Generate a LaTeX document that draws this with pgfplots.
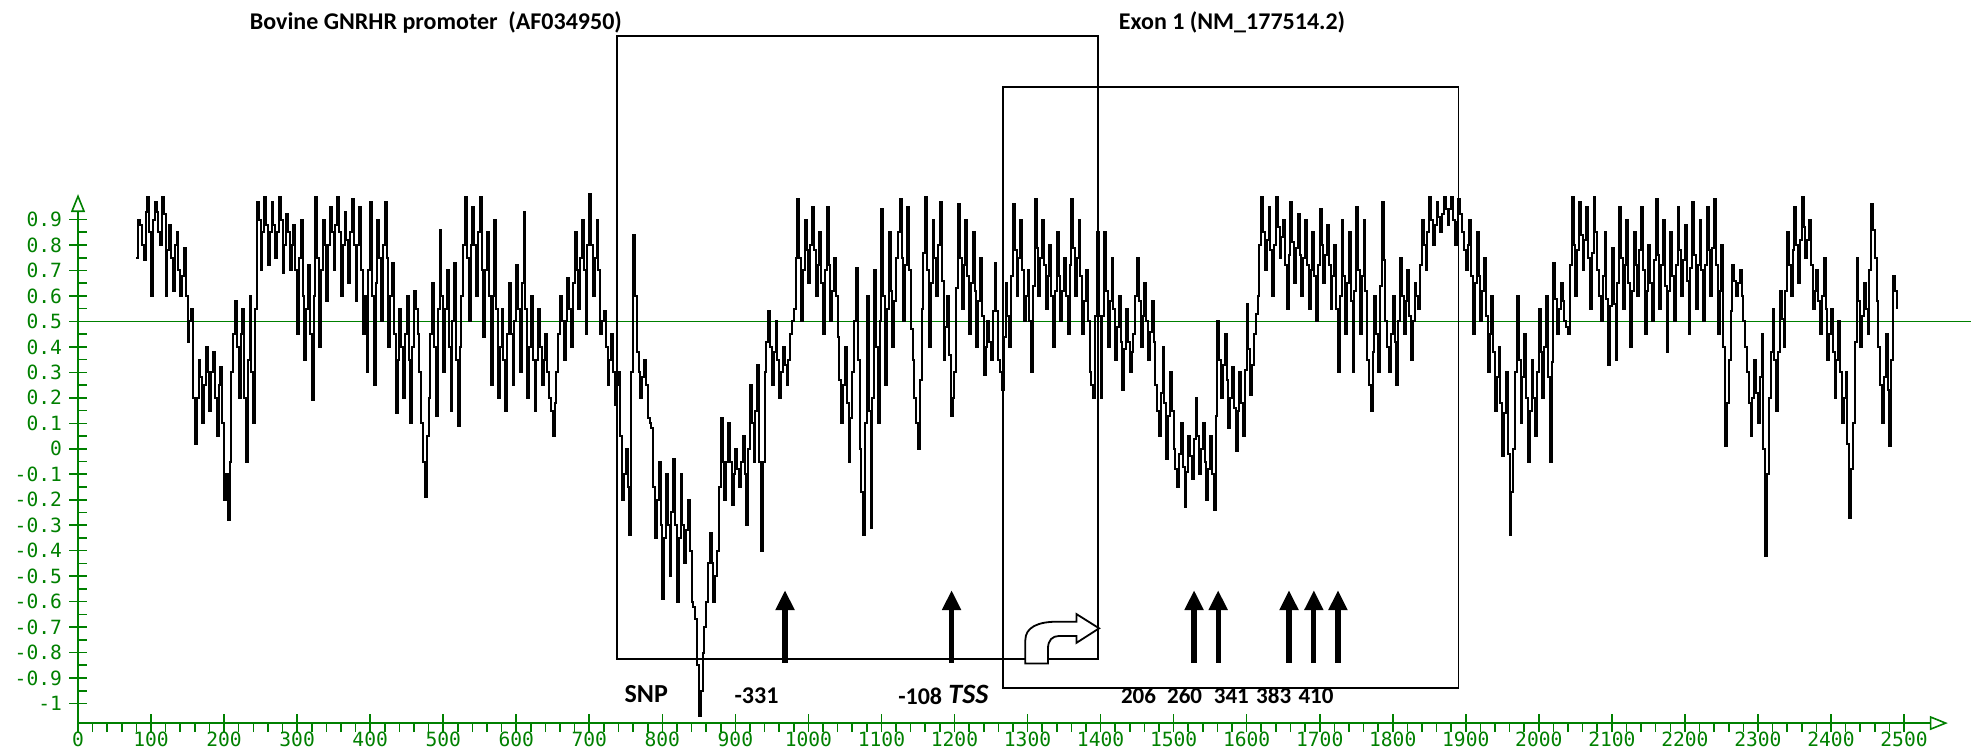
\documentclass[border=0pt]{standalone}
\usepackage{pgfplots}
\pgfplotsset{compat=1.18}
\usepackage{fontspec}
\setmainfont{Carlito}
\newfontfamily\tickfont{DejaVu Sans Mono}
\usetikzlibrary{arrows.meta}
\definecolor{axgreen}{RGB}{0,128,0}
\begin{document}
\begin{tikzpicture}
\begin{axis}[
  scale only axis,
  width=934.9pt, height=264.5pt,
  xmin=0, xmax=2560, ymin=-1.077, ymax=1.0,
  axis lines=left,
  axis line style={axgreen, line width=0.8pt},
  x axis line style={-{Triangle[open,width=7pt,length=9pt]}},
  y axis line style={-{Triangle[open,width=7pt,length=9pt]}},
  xtick={0,100,...,2500},
  ytick={-1,-0.9,-0.8,-0.7,-0.6,-0.5,-0.4,-0.3,-0.2,-0.1,0,0.1,0.2,0.3,0.4,0.5,0.6,0.7,0.8,0.9},
  minor x tick num=4,
  minor y tick num=1,
  tick align=center,
  major tick length=9pt,
  minor tick length=4.5pt,
  tick style={axgreen, line width=0.8pt},
  minor x tick style={yshift=-2.25pt},
  minor y tick style={xshift=2.25pt},
  ticklabel style={font=\tickfont\fontsize{9.8}{10}\selectfont, text=axgreen},
  xticklabel style={yshift=3.5pt},
  /pgf/number format/assume math mode=true,
  /pgf/number format/1000 sep={},
  clip=false,
]
\coordinate (BL) at (axis cs:-106.8,-1.187);
\coordinate (TR) at (axis cs:2591.7,1.762);
\draw[axgreen, line width=0.8pt] (axis cs:0,0.5) -- (axis cs:2592,0.5);
\addplot[black, line width=1.0pt, const plot, mark=none] coordinates {
(80,0.75)(82.5,0.9)(85,0.88)(87.5,0.8)(90,0.74)(92.5,0.93)(95,0.99)(97.5,0.85)(100,0.6)(102.5,0.9)
(105,0.97)(107.5,0.93)(110,0.85)(112.5,0.8)(115,0.99)(117.5,0.92)(120,0.6)(122.5,0.78)(125,0.88)(127.5,0.75)
(130,0.62)(132.5,0.8)(135,0.85)(137.5,0.7)(140,0.6)(142.5,0.68)(145,0.79)(147.5,0.6)(150,0.42)(152.5,0.5)
(155,0.55)(157.5,0.2)(160,0.02)(162.5,0.2)(165,0.35)(167.5,0.28)(170,0.1)(172.5,0.25)(175,0.4)(177.5,0.3)
(180,0.15)(182.5,0.3)(185,0.38)(187.5,0.2)(190,0.05)(192.5,0.25)(195,0.32)(197.5,0.1)(200,-0.2)(202.5,-0.1)
(205,-0.28)(207.5,-0.05)(210,0.3)(212.5,0.45)(215,0.58)(217.5,0.4)(220,0.2)(222.5,0.45)(225,0.55)(227.5,0.2)
(230,-0.05)(232.5,0.35)(235,0.6)(237.5,0.3)(240,0.1)(242.5,0.55)(245,0.97)(247.5,0.9)(250,0.7)(252.5,0.85)
(255,0.99)(257.5,0.88)(260,0.72)(262.5,0.85)(265,0.97)(267.5,0.88)(270,0.75)(272.5,0.85)(275,0.99)(277.5,0.9)
(280,0.69)(282.5,0.8)(285,0.92)(287.5,0.85)(290,0.7)(292.5,0.8)(295,0.88)(297.5,0.7)(300,0.45)(302.5,0.75)
(305,0.9)(307.5,0.6)(310,0.35)(312.5,0.55)(315,0.72)(317.5,0.45)(320,0.19)(322.5,0.6)(325,0.99)(327.5,0.75)
(330,0.4)(332.5,0.7)(335,0.9)(337.5,0.8)(340,0.58)(342.5,0.8)(345,0.95)(347.5,0.85)(350,0.7)(352.5,0.88)
(355,0.99)(357.5,0.85)(360,0.6)(362.5,0.8)(365,0.93)(367.5,0.82)(370,0.65)(372.5,0.85)(375,0.98)(377.5,0.8)
(380,0.58)(382.5,0.8)(385,0.95)(387.5,0.7)(390,0.45)(392.5,0.6)(395,0.3)(397.5,0.7)(400,0.97)(402.5,0.6)
(405,0.25)(407.5,0.65)(410,0.9)(412.5,0.75)(415,0.5)(417.5,0.8)(420,0.97)(422.5,0.75)(425,0.4)(427.5,0.6)
(430,0.73)(432.5,0.45)(435,0.14)(437.5,0.35)(440,0.55)(442.5,0.4)(445,0.2)(447.5,0.45)(450,0.6)(452.5,0.35)
(455,0.1)(457.5,0.4)(460,0.62)(462.5,0.55)(465,0.45)(467.5,0.3)(470,0.1)(472.5,-0.05)(475,-0.19)(477.5,0.05)
(480,0.2)(482.5,0.45)(485,0.65)(487.5,0.4)(490,0.13)(492.5,0.55)(495,0.86)(497.5,0.6)(500,0.3)(502.5,0.55)
(505,0.7)(507.5,0.4)(510,0.15)(512.5,0.5)(515,0.73)(517.5,0.35)(520,0.09)(522.5,0.4)(525,0.6)(527.5,0.8)
(530,0.99)(532.5,0.75)(535,0.5)(537.5,0.8)(540,0.95)(542.5,0.8)(545,0.6)(547.5,0.85)(550,0.99)(552.5,0.7)
(555,0.44)(557.5,0.7)(560,0.85)(562.5,0.6)(565,0.25)(567.5,0.6)(570,0.9)(572.5,0.55)(575,0.2)(577.5,0.4)
(580,0.55)(582.5,0.35)(585,0.15)(587.5,0.45)(590,0.65)(592.5,0.45)(595,0.25)(597.5,0.5)(600,0.72)(602.5,0.55)
(605,0.3)(607.5,0.65)(610,0.93)(612.5,0.55)(615,0.2)(617.5,0.4)(620,0.6)(622.5,0.35)(625,0.15)(627.5,0.35)
(630,0.55)(632.5,0.4)(635,0.25)(637.5,0.35)(640,0.45)(642.5,0.3)(645,0.2)(647.5,0.15)(650,0.05)(652.5,0.18)
(655,0.3)(657.5,0.45)(660,0.6)(662.5,0.5)(665,0.35)(667.5,0.5)(670,0.67)(672.5,0.55)(675,0.4)(677.5,0.65)
(680,0.85)(682.5,0.7)(685,0.55)(687.5,0.75)(690,0.9)(692.5,0.7)(695,0.45)(697.5,0.8)(700,1.0)(702.5,0.8)
(705,0.6)(707.5,0.75)(710,0.9)(712.5,0.7)(715,0.45)(717.5,0.5)(720,0.54)(722.5,0.4)(725,0.25)(727.5,0.35)
(730,0.45)(732.5,0.3)(735,0.17)(737.5,0.25)(740,0.3)(742.5,0.05)(745,-0.2)(747.5,-0.1)(750,0.0)(752.5,-0.15)
(755,-0.34)(757.5,0.3)(760,0.84)(762.5,0.6)(765,0.38)(767.5,0.3)(770,0.2)(772.5,0.28)(775,0.35)(777.5,0.25)
(780,0.12)(782.5,0.1)(785,0.08)(787.5,-0.15)(790,-0.35)(792.5,-0.2)(795,-0.05)(797.5,-0.3)(800,-0.59)(802.5,-0.35)
(805,-0.1)(807.5,-0.3)(810,-0.5)(812.5,-0.25)(815,-0.04)(817.5,-0.3)(820,-0.6)(822.5,-0.35)(825,-0.1)(827.5,-0.3)
(830,-0.45)(832.5,-0.32)(835,-0.2)(837.5,-0.4)(840,-0.6)(842.5,-0.62)(845,-0.67)(847.5,-0.85)(850,-1.05)(852.5,-0.95)
(855,-0.8)(857.5,-0.7)(860,-0.6)(862.5,-0.45)(865,-0.33)(867.5,-0.45)(870,-0.6)(872.5,-0.5)(875,-0.4)(877.5,-0.15)
(880,0.12)(882.5,-0.05)(885,-0.2)(887.5,-0.05)(890,0.1)(892.5,-0.05)(895,-0.22)(897.5,-0.1)(900,0.0)(902.5,-0.08)
(905,-0.15)(907.5,-0.05)(910,0.05)(912.5,-0.1)(915,-0.3)(917.5,0.0)(920,0.25)(922.5,0.1)(925,-0.05)(927.5,0.15)
(930,0.33)(932.5,-0.05)(935,-0.4)(937.5,-0.05)(940,0.3)(942.5,0.42)(945,0.54)(947.5,0.4)(950,0.25)(952.5,0.38)
(955,0.5)(957.5,0.35)(960,0.2)(962.5,0.3)(965,0.4)(967.5,0.33)(970,0.25)(972.5,0.35)(975,0.45)(977.5,0.5)
(980,0.55)(982.5,0.75)(985,0.98)(987.5,0.75)(990,0.5)(992.5,0.7)(995,0.9)(997.5,0.78)(1000,0.65)(1002.5,0.8)
(1005,0.95)(1007.5,0.78)(1010,0.6)(1012.5,0.72)(1015,0.85)(1017.5,0.65)(1020,0.45)(1022.5,0.7)(1025,0.95)(1027.5,0.72)
(1030,0.5)(1032.5,0.62)(1035,0.75)(1037.5,0.6)(1040,0.44)(1042.5,0.27)(1045,0.1)(1047.5,0.25)(1050,0.4)(1052.5,0.18)
(1055,-0.05)(1057.5,0.12)(1060,0.3)(1062.5,0.5)(1065,0.71)(1067.5,0.35)(1070,0.0)(1072.5,-0.17)(1075,-0.34)(1077.5,0.1)
(1080,0.6)(1082.5,0.15)(1085,-0.31)(1087.5,0.2)(1090,0.7)(1092.5,0.4)(1095,0.1)(1097.5,0.5)(1100,0.94)(1102.5,0.6)
(1105,0.25)(1107.5,0.55)(1110,0.85)(1112.5,0.62)(1115,0.4)(1117.5,0.58)(1120,0.75)(1122.5,0.85)(1125,0.98)(1127.5,0.75)
(1130,0.5)(1132.5,0.72)(1135,0.95)(1137.5,0.7)(1140,0.47)(1142.5,0.35)(1145,0.2)(1147.5,0.1)(1150,0.0)(1152.5,0.27)
(1155,0.55)(1157.5,0.77)(1160,0.99)(1162.5,0.7)(1165,0.4)(1167.5,0.65)(1170,0.9)(1172.5,0.75)(1175,0.6)(1177.5,0.8)
(1180,0.97)(1182.5,0.66)(1185,0.35)(1187.5,0.48)(1190,0.6)(1192.5,0.37)(1195,0.13)(1197.5,0.2)(1200,0.3)(1202.5,0.63)
(1205,0.96)(1207.5,0.75)(1210,0.55)(1212.5,0.72)(1215,0.9)(1217.5,0.68)(1220,0.45)(1222.5,0.65)(1225,0.85)(1227.5,0.62)
(1230,0.4)(1232.5,0.58)(1235,0.75)(1237.5,0.52)(1240,0.29)(1242.5,0.4)(1245,0.5)(1247.5,0.42)(1250,0.35)(1252.5,0.54)
(1255,0.73)(1257.5,0.54)(1260,0.35)(1262.5,0.3)(1265,0.23)(1267.5,0.44)(1270,0.65)(1272.5,0.52)(1275,0.4)(1277.5,0.68)
(1280,0.96)(1282.5,0.78)(1285,0.6)(1287.5,0.75)(1290,0.9)(1292.5,0.7)(1295,0.5)(1297.5,0.6)(1300,0.7)(1302.5,0.5)
(1305,0.3)(1307.5,0.64)(1310,0.98)(1312.5,0.79)(1315,0.6)(1317.5,0.75)(1320,0.9)(1322.5,0.72)(1325,0.55)(1327.5,0.68)
(1330,0.8)(1332.5,0.6)(1335,0.4)(1337.5,0.62)(1340,0.85)(1342.5,0.68)(1345,0.5)(1347.5,0.62)(1350,0.75)(1352.5,0.6)
(1355,0.45)(1357.5,0.72)(1360,0.98)(1362.5,0.79)(1365,0.6)(1367.5,0.75)(1370,0.9)(1372.5,0.68)(1375,0.45)(1377.5,0.58)
(1380,0.7)(1382.5,0.5)(1385,0.3)(1387.5,0.25)(1390,0.2)(1392.5,0.52)(1395,0.85)(1397.5,0.52)(1400,0.2)(1402.5,0.52)
(1405,0.85)(1407.5,0.62)(1410,0.4)(1412.5,0.58)(1415,0.75)(1417.5,0.55)(1420,0.35)(1422.5,0.48)(1425,0.6)(1427.5,0.42)
(1430,0.23)(1432.5,0.39)(1435,0.55)(1437.5,0.42)(1440,0.3)(1442.5,0.38)(1445,0.45)(1447.5,0.6)(1450,0.75)(1452.5,0.58)
(1455,0.4)(1457.5,0.52)(1460,0.65)(1462.5,0.5)(1465,0.35)(1467.5,0.46)(1470,0.58)(1472.5,0.42)(1475,0.25)(1477.5,0.15)
(1480,0.05)(1482.5,0.22)(1485,0.4)(1487.5,0.18)(1490,-0.04)(1492.5,0.13)(1495,0.3)(1497.5,0.15)(1500,0.0)(1502.5,-0.08)
(1505,-0.15)(1507.5,-0.02)(1510,0.1)(1512.5,-0.07)(1515,-0.23)(1517.5,-0.09)(1520,0.05)(1522.5,-0.03)(1525,-0.12)(1527.5,0.04)
(1530,0.2)(1532.5,0.05)(1535,-0.1)(1537.5,0.0)(1540,0.1)(1542.5,-0.05)(1545,-0.2)(1547.5,-0.08)(1550,0.05)(1552.5,-0.1)
(1555,-0.24)(1557.5,0.13)(1560,0.5)(1562.5,0.35)(1565,0.2)(1567.5,0.33)(1570,0.45)(1572.5,0.27)(1575,0.08)(1577.5,0.2)
(1580,0.32)(1582.5,0.16)(1585,-0.01)(1587.5,0.15)(1590,0.3)(1592.5,0.18)(1595,0.05)(1597.5,0.31)(1600,0.57)(1602.5,0.39)
(1605,0.21)(1607.5,0.33)(1610,0.45)(1612.5,0.53)(1615,0.6)(1617.5,0.8)(1620,0.99)(1622.5,0.85)(1625,0.7)(1627.5,0.82)
(1630,0.95)(1632.5,0.78)(1635,0.6)(1637.5,0.8)(1640,0.99)(1642.5,0.87)(1645,0.75)(1647.5,0.83)(1650,0.9)(1652.5,0.72)
(1655,0.55)(1657.5,0.76)(1660,0.97)(1662.5,0.81)(1665,0.65)(1667.5,0.79)(1670,0.92)(1672.5,0.76)(1675,0.6)(1677.5,0.75)
(1680,0.9)(1682.5,0.72)(1685,0.55)(1687.5,0.7)(1690,0.85)(1692.5,0.68)(1695,0.5)(1697.5,0.72)(1700,0.94)(1702.5,0.8)
(1705,0.65)(1707.5,0.76)(1710,0.88)(1712.5,0.72)(1715,0.55)(1717.5,0.68)(1720,0.8)(1722.5,0.55)(1725,0.3)(1727.5,0.6)
(1730,0.9)(1732.5,0.68)(1735,0.45)(1737.5,0.65)(1740,0.85)(1742.5,0.58)(1745,0.3)(1747.5,0.62)(1750,0.95)(1752.5,0.7)
(1755,0.45)(1757.5,0.68)(1760,0.9)(1762.5,0.62)(1765,0.35)(1767.5,0.25)(1770,0.15)(1772.5,0.38)(1775,0.6)(1777.5,0.45)
(1780,0.3)(1782.5,0.64)(1785,0.97)(1787.5,0.74)(1790,0.5)(1792.5,0.4)(1795,0.3)(1797.5,0.45)(1800,0.6)(1802.5,0.42)
(1805,0.25)(1807.5,0.5)(1810,0.75)(1812.5,0.6)(1815,0.45)(1817.5,0.58)(1820,0.7)(1822.5,0.52)(1825,0.35)(1827.5,0.5)
(1830,0.65)(1832.5,0.6)(1835,0.55)(1837.5,0.72)(1840,0.9)(1842.5,0.8)(1845,0.7)(1847.5,0.85)(1850,0.99)(1852.5,0.9)
(1855,0.8)(1857.5,0.88)(1860,0.97)(1862.5,0.91)(1865,0.85)(1867.5,0.92)(1870,0.99)(1872.5,0.94)(1875,0.88)(1877.5,0.94)
(1880,0.99)(1882.5,0.9)(1885,0.8)(1887.5,0.89)(1890,0.98)(1892.5,0.92)(1895,0.85)(1897.5,0.78)(1900,0.7)(1902.5,0.8)
(1905,0.9)(1907.5,0.68)(1910,0.45)(1912.5,0.65)(1915,0.85)(1917.5,0.68)(1920,0.5)(1922.5,0.62)(1925,0.75)(1927.5,0.52)
(1930,0.3)(1932.5,0.45)(1935,0.6)(1937.5,0.38)(1940,0.15)(1942.5,0.28)(1945,0.4)(1947.5,0.18)(1950,-0.03)(1952.5,0.14)
(1955,0.3)(1957.5,-0.02)(1960,-0.34)(1962.5,-0.17)(1965,0.0)(1967.5,0.3)(1970,0.6)(1972.5,0.35)(1975,0.1)(1977.5,0.28)
(1980,0.45)(1982.5,0.2)(1985,-0.05)(1987.5,0.15)(1990,0.35)(1992.5,0.2)(1995,0.05)(1997.5,0.3)(2000,0.55)(2002.5,0.38)
(2005,0.2)(2007.5,0.4)(2010,0.6)(2012.5,0.28)(2015,-0.05)(2017.5,0.34)(2020,0.73)(2022.5,0.59)(2025,0.45)(2027.5,0.55)
(2030,0.65)(2032.5,0.58)(2035,0.5)(2037.5,0.48)(2040,0.45)(2042.5,0.72)(2045,0.99)(2047.5,0.8)(2050,0.6)(2052.5,0.78)
(2055,0.97)(2057.5,0.84)(2060,0.7)(2062.5,0.82)(2065,0.95)(2067.5,0.75)(2070,0.55)(2072.5,0.77)(2075,0.99)(2077.5,0.85)
(2080,0.7)(2082.5,0.6)(2085,0.5)(2087.5,0.68)(2090,0.85)(2092.5,0.59)(2095,0.33)(2097.5,0.56)(2100,0.79)(2102.5,0.57)
(2105,0.35)(2107.5,0.65)(2110,0.95)(2112.5,0.75)(2115,0.55)(2117.5,0.72)(2120,0.9)(2122.5,0.65)(2125,0.4)(2127.5,0.62)
(2130,0.85)(2132.5,0.72)(2135,0.6)(2137.5,0.78)(2140,0.95)(2142.5,0.7)(2145,0.45)(2147.5,0.62)(2150,0.8)(2152.5,0.65)
(2155,0.5)(2157.5,0.74)(2160,0.98)(2162.5,0.76)(2165,0.55)(2167.5,0.72)(2170,0.9)(2172.5,0.64)(2175,0.38)(2177.5,0.62)
(2180,0.85)(2182.5,0.68)(2185,0.5)(2187.5,0.72)(2190,0.95)(2192.5,0.78)(2195,0.6)(2197.5,0.74)(2200,0.88)(2202.5,0.66)
(2205,0.45)(2207.5,0.71)(2210,0.97)(2212.5,0.76)(2215,0.55)(2217.5,0.72)(2220,0.9)(2222.5,0.7)(2225,0.5)(2227.5,0.72)
(2230,0.95)(2232.5,0.78)(2235,0.6)(2237.5,0.79)(2240,0.98)(2242.5,0.72)(2245,0.45)(2247.5,0.62)(2250,0.8)(2252.5,0.4)
(2255,0.01)(2257.5,0.18)(2260,0.35)(2262.5,0.54)(2265,0.72)(2267.5,0.66)(2270,0.6)(2272.5,0.65)(2275,0.7)(2277.5,0.6)
(2280,0.5)(2282.5,0.4)(2285,0.3)(2287.5,0.18)(2290,0.05)(2292.5,0.2)(2295,0.35)(2297.5,0.22)(2300,0.1)(2302.5,0.28)
(2305,0.45)(2307.5,0.0)(2310,-0.42)(2312.5,-0.1)(2315,0.2)(2317.5,0.38)(2320,0.55)(2322.5,0.35)(2325,0.15)(2327.5,0.38)
(2330,0.62)(2332.5,0.51)(2335,0.4)(2337.5,0.62)(2340,0.85)(2342.5,0.72)(2345,0.6)(2347.5,0.78)(2350,0.95)(2352.5,0.8)
(2355,0.65)(2357.5,0.82)(2360,0.99)(2362.5,0.87)(2365,0.75)(2367.5,0.82)(2370,0.9)(2372.5,0.72)(2375,0.55)(2377.5,0.62)
(2380,0.7)(2382.5,0.58)(2385,0.45)(2387.5,0.6)(2390,0.75)(2392.5,0.55)(2395,0.35)(2397.5,0.45)(2400,0.55)(2402.5,0.38)
(2405,0.2)(2407.5,0.35)(2410,0.5)(2412.5,0.3)(2415,0.1)(2417.5,0.2)(2420,0.3)(2422.5,0.02)(2425,-0.27)(2427.5,-0.08)
(2430,0.1)(2432.5,0.42)(2435,0.75)(2437.5,0.58)(2440,0.4)(2442.5,0.52)(2445,0.65)(2447.5,0.55)(2450,0.45)(2452.5,0.7)
(2455,0.96)(2457.5,0.86)(2460,0.75)(2462.5,0.58)(2465,0.4)(2467.5,0.25)(2470,0.1)(2472.5,0.28)(2475,0.45)(2477.5,0.23)
(2480,0.01)(2482.5,0.35)(2485,0.68)(2487.5,0.62)(2490,0.55)
};
% boxes
\draw[black, line width=0.9pt] (axis cs:738,-0.825) rectangle (axis cs:1397,1.62);
\draw[black, line width=0.9pt] (axis cs:1266,-0.94) rectangle (axis cs:1890,1.42);
% TSS bent arrow
\draw[black, line width=0.9pt, fill=white]
  (axis cs:1297,-0.843) -- (axis cs:1297,-0.751)
  .. controls (axis cs:1297,-0.70) and (axis cs:1315,-0.679) .. (axis cs:1340,-0.679)
  -- (axis cs:1367,-0.679) -- (axis cs:1367,-0.649) -- (axis cs:1398,-0.705)
  -- (axis cs:1367,-0.762) -- (axis cs:1367,-0.735) -- (axis cs:1343,-0.735)
  .. controls (axis cs:1334,-0.735) and (axis cs:1328,-0.752) .. (axis cs:1328,-0.784)
  -- (axis cs:1328,-0.843) -- cycle;
% SNP arrows
\foreach \xa in {968,1196,1528,1561,1658,1692,1725}{
  \edef\tmp{\noexpand\draw[black, line width=2.6pt, -{Triangle[width=9pt,length=10pt]}] (axis cs:\xa,-0.84) -- (axis cs:\xa,-0.555);}
  \tmp
}
% labels
\node[font=\bfseries\fontsize{12}{14}\selectfont] at (axis cs:490,1.673) {Bovine GNRHR promoter\ \ (AF034950)};
\node[font=\bfseries\fontsize{12}{14}\selectfont] at (axis cs:1580,1.673) {Exon 1 (NM\_177514.2)};
\node[font=\bfseries\fontsize{13}{15}\selectfont] at (axis cs:778,-0.965) {SNP};
\node[font=\bfseries\fontsize{12}{14}\selectfont] at (axis cs:929,-0.97) {-331};
\node[font=\bfseries\fontsize{12}{14}\selectfont] at (axis cs:1153,-0.97) {-108};
\node[font=\bfseries\itshape\fontsize{14}{16}\selectfont] at (axis cs:1219,-0.965) {TSS};
\node[font=\bfseries\fontsize{11.5}{13}\selectfont] at (axis cs:1452,-0.97) {206};
\node[font=\bfseries\fontsize{11.5}{13}\selectfont] at (axis cs:1515,-0.97) {260};
\node[font=\bfseries\fontsize{11.5}{13}\selectfont] at (axis cs:1579,-0.97) {341};
\node[font=\bfseries\fontsize{11.5}{13}\selectfont] at (axis cs:1637,-0.97) {383};
\node[font=\bfseries\fontsize{11.5}{13}\selectfont] at (axis cs:1695,-0.97) {410};
\end{axis}
\pgfresetboundingbox
\path[use as bounding box] (BL) rectangle (TR);
\end{tikzpicture}
\end{document}
